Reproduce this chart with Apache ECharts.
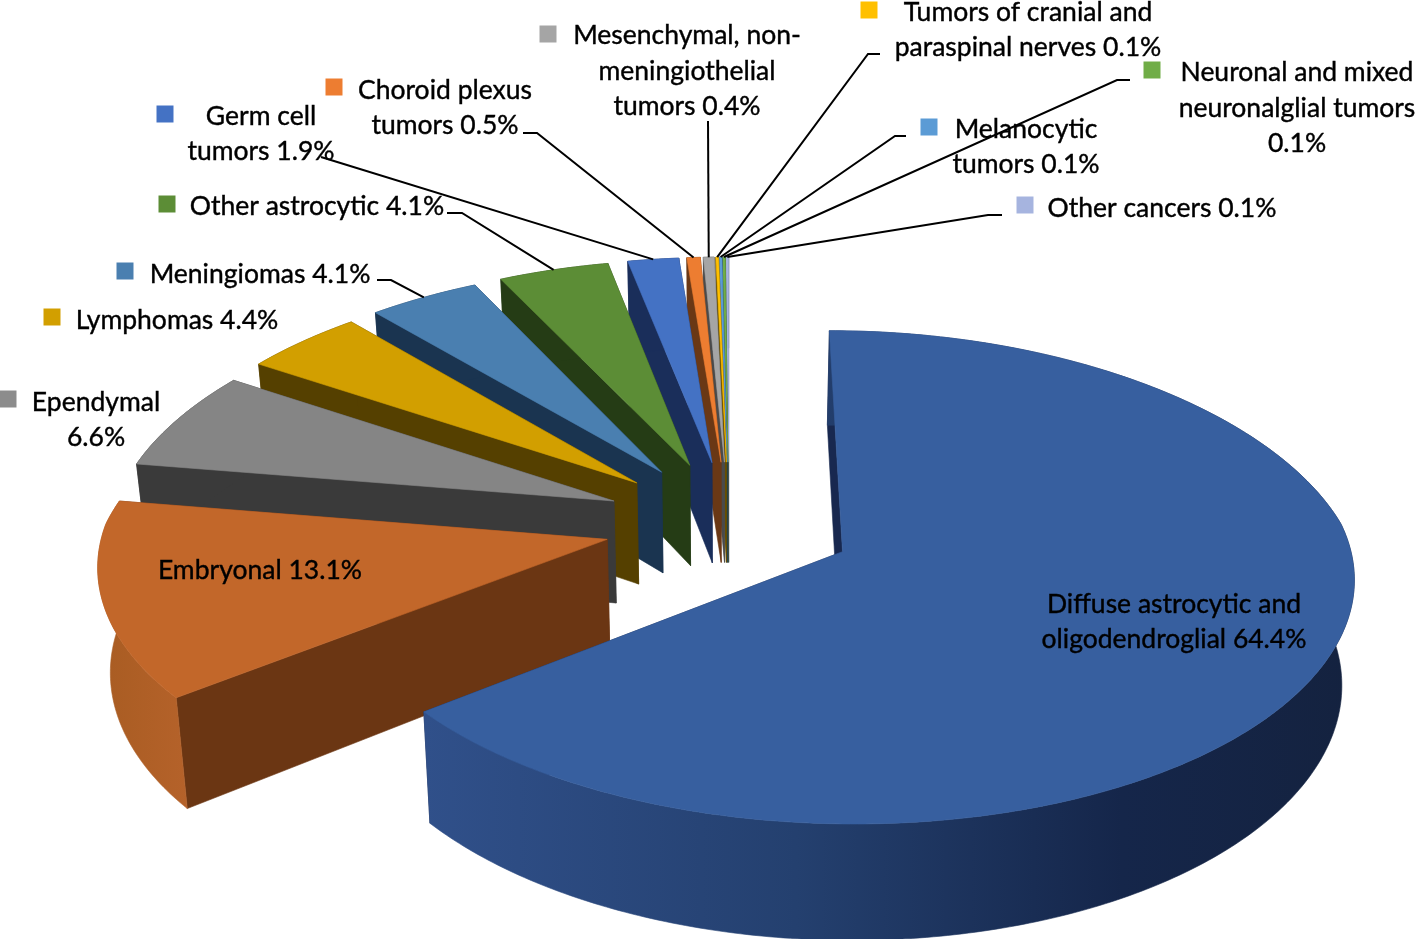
<!DOCTYPE html>
<html>
<head>
<meta charset="utf-8">
<style>html,body{margin:0;padding:0;background:#fff}#c{width:1418px;height:939px}</style>
<script src="https://cdn.jsdelivr.net/npm/echarts@6/dist/echarts.min.js"></script>
</head>
<body>
<div id="c"></div>
<script>
// ---- data ----
var categories = ['Diffuse astrocytic and oligodendroglial','Embryonal','Ependymal','Lymphomas','Meningiomas','Other astrocytic','Germ cell tumors','Choroid plexus tumors','Mesenchymal, non-meningiothelial tumors','Tumors of cranial and paraspinal nerves','Melanocytic tumors','Neuronal and mixed neuronalglial tumors','Other cancers'];
var values = [64.4,13.1,6.6,4.4,4.1,4.1,1.9,0.5,0.4,0.1,0.1,0.1,0.1];
var labelTexts = [
 'Diffuse astrocytic and\noligodendroglial 64.4%','Embryonal 13.1%','Ependymal\n6.6%','Lymphomas 4.4%','Meningiomas 4.1%','Other astrocytic 4.1%',
 'Germ cell\ntumors 1.9%','Choroid plexus\ntumors 0.5%','Mesenchymal, non-\nmeningiothelial\ntumors 0.4%','Tumors of cranial and\nparaspinal nerves 0.1%',
 'Melanocytic\ntumors 0.1%','Neuronal and mixed\nneuronalglial tumors\n0.1%','Other cancers 0.1%'];
// ---- colours ----
var topColors  = ['#375f9f','#c2672a','#858585','#d29f00','#4a7fb0','#5c8d36','#4472c4','#ed7d31','#a5a5a5','#ffc000','#5b9bd5','#70ad47','#a6b4df'];
var keyColors  = ['#375f9f','#c2672a','#8c8c8c','#d29f00','#4a7fb0','#5c8d36','#4472c4','#ed7d31','#a5a5a5','#ffc000','#5b9bd5','#70ad47','#a6b4df'];
var wallColors = ['#18284f','#6b3613','#3a3a3a','#554000','#1a3450','#253c15','#1a2e5a','#6a3815','#4a4a4a','#664d00','#24405c','#2d4a1c','#4c5570'];
var curveStops = {0:[[0,'#30508a'],[0.4,'#24406f'],[0.75,'#15264a'],[1,'#14223f']],1:[[0,'#a85c22'],[1,'#b5622a']]};
// ---- layout (placement only) ----
var labelPos = [[1174,622],[260,570],[96,420],[177,320],[260,274],[317,206],[261,134],[445,108],[687,71],[1028,30],[1026,147],[1297,108],[1162,208]];
var keyPos   = [null,null,[8,399],[52,317],[125,271],[167,204],[165,114],[334,87],[548,34],[869,10],[929,127],[1152,70],[1025,205]];
var leaderStart = [null,null,null,null,[[377,280],[391,280]],[[447,213],[462,213]],[[321,157]],[[523,133],[537,133]],[[708,121]],[[880,54],[868,54]],[[906,136],[895,136]],[[1130,80],[1117,80]],[[1002,215],[988,215]]];
var drawOrder = [12,11,10,9,8,7,6,5,4,3,2,1,0];
var CX=729, CY=523.6, BX=508, KX_BACK=0.137, KX_FRONT=0.095, AY=243, KY=0.105, DROP=103, SHRINK=0.98;
var EXPLODE_X=0.246, EXPLODE_Y=0.26, RADIUS_X=0.99, RADIUS_Y=0.98;

function project(X,Y,bottom){
  var sx=1/(1+(Y>0?KX_BACK:KX_FRONT)*Y), sy=1/(1+KY*Y);
  var x=CX+BX*sx*X, y=CY-AY*sy*Y;
  if(bottom){ x=CX+(x-CX)*SHRINK; y+=DROP*sy; }
  return [x,y];
}
var total=values.reduce(function(a,b){return a+b;},0);
var starts=[], acc=0;
values.forEach(function(v){starts.push(acc/total*Math.PI*2); acc+=v;});
function geom(i){
  var a0=starts[i], a1=a0+values[i]/total*Math.PI*2, mid=(a0+a1)/2;
  return {a0:a0,a1:a1,mid:mid,ox:EXPLODE_X*Math.sin(mid),oy:EXPLODE_Y*Math.cos(mid)};
}
function arc(g,bottom){
  var n=Math.max(2,Math.ceil((g.a1-g.a0)/(Math.PI/240))), pts=[];
  for(var k=0;k<=n;k++){var a=g.a0+(g.a1-g.a0)*k/n; pts.push(project(g.ox+RADIUS_X*Math.sin(a),g.oy+RADIUS_Y*Math.cos(a),bottom));}
  return pts;
}
function sliceItem(params,api){
  var i=api.value(0), g=geom(i), rank=drawOrder.indexOf(i)*10;
  var top=arc(g,false), bot=arc(g,true);
  var aT=project(g.ox,g.oy,false), aB=project(g.ox,g.oy,true);
  var wall=wallColors[i];
  var curveFill=wall;
  if(curveStops[i]){
    var xs=top.concat(bot).map(function(p){return p[0];});
    curveFill=new echarts.graphic.LinearGradient(Math.min.apply(null,xs),0,Math.max.apply(null,xs),0,curveStops[i].map(function(s){return {offset:s[0],color:s[1]};}),true);
  }
  function poly(pts,fill,z){return {type:'polygon',z2:rank+z,shape:{points:pts},style:{fill:fill,stroke:fill,lineWidth:0.6}};}
  return {type:'group',children:[
    poly([aT,top[top.length-1],bot[bot.length-1],aB],wall,0),
    poly([aT,top[0],bot[0],aB],wall,1),
    poly(top.concat(bot.slice().reverse()),curveFill,2),
    poly([aT].concat(top),topColors[i],3)
  ]};
}
function annotationItem(params,api){
  var i=api.value(0), kids=[], g=geom(i);
  var rank=1000;
  if(leaderStart[i]){
    var tip=project(g.ox+RADIUS_X*Math.sin(g.mid),g.oy+RADIUS_Y*Math.cos(g.mid),false);
    kids.push({type:'polyline',z2:rank,shape:{points:leaderStart[i].concat([tip])},style:{fill:null,stroke:'#000',lineWidth:2}});
  }
  if(keyPos[i]){
    kids.push({type:'rect',z2:rank+1,shape:{x:keyPos[i][0]-8.5,y:keyPos[i][1]-8.5,width:17,height:17},style:{fill:keyColors[i]}});
  }
  kids.push({type:'text',z2:rank+2,style:{x:labelPos[i][0],y:labelPos[i][1],text:labelTexts[i],fill:'#000',stroke:'#000',lineWidth:0.4,font:'400 26.5px Lato',align:'center',verticalAlign:'middle',lineHeight:35.5}});
  return {type:'group',children:kids};
}
var indices=values.map(function(v,i){return [i,v];});
var chart=echarts.init(document.getElementById('c'),null,{renderer:'canvas'});
chart.setOption({
  animation:false,
  backgroundColor:'#fff',
  series:[
    {type:'custom',coordinateSystem:'none',renderItem:sliceItem,data:indices,silent:true,z:1},
    {type:'custom',coordinateSystem:'none',renderItem:annotationItem,data:indices,silent:true,z:2}
  ]
});
</script>
</body>
</html>
